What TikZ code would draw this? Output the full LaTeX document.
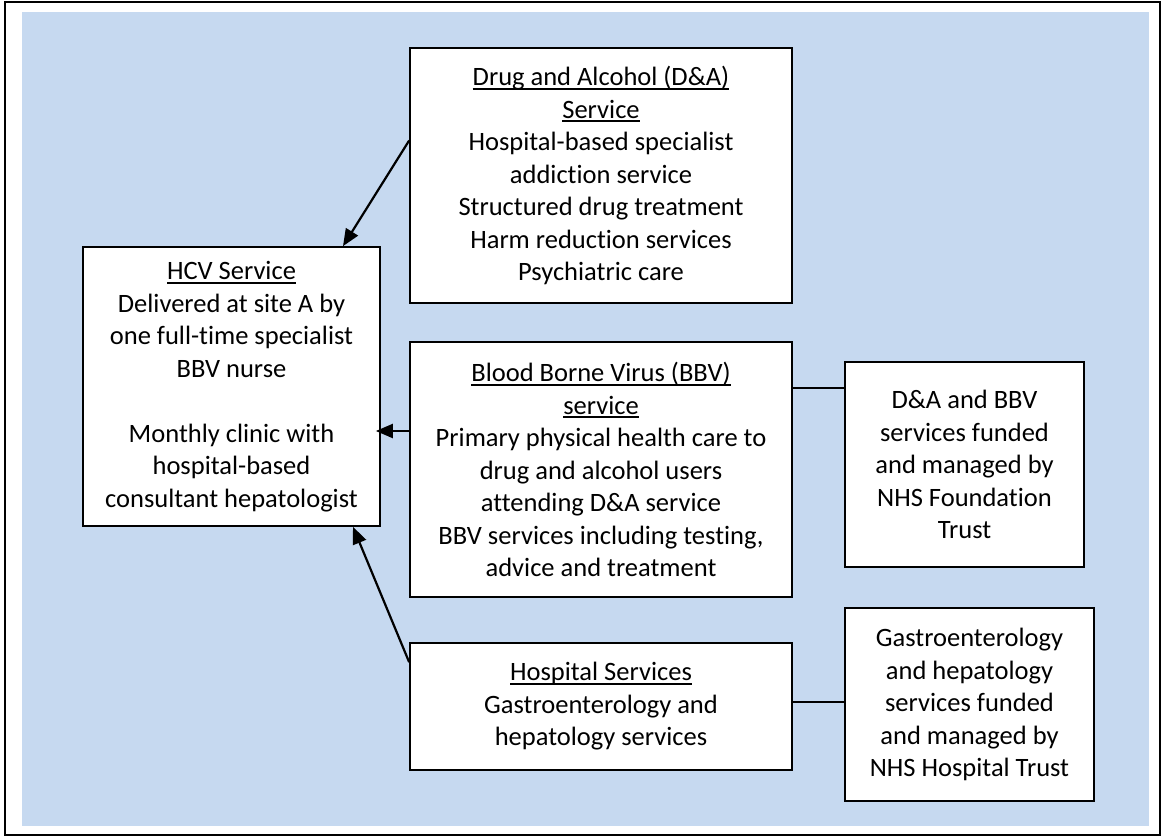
\documentclass[tikz,border=0pt]{standalone}
\usepackage{fontspec}
\setmainfont{Carlito}[Ligatures=NoCommon]
\usetikzlibrary{arrows.meta,calc}
\definecolor{bgblue}{RGB}{198,217,240}
\newcommand{\myul}[1]{\setbox0\hbox{#1}\leavevmode\rlap{\rule[-4pt]{\wd0}{1.7pt}}\box0}
\tikzset{
  svcbox/.style={draw=black, line width=1.7pt, fill=white, rectangle, inner sep=0pt,
    align=center, font=\fontsize{26.5}{32.5}\selectfont},
  arr/.style={line width=2.2pt, -{Triangle[length=17pt,width=14pt]}},
  link/.style={line width=1.5pt}
}
\begin{document}
\begin{tikzpicture}[x=1pt,y=-1pt]
\useasboundingbox (0,0) rectangle (1162,836);
\draw[line width=1.8pt] (5,2) rectangle (1160,835);
\fill[bgblue] (22,12) rectangle (1149,826);

\node[svcbox, minimum width=382pt, minimum height=255pt] (da) at (601,175.5)
  {\myul{Drug and Alcohol (D\&A)}\\ \myul{Service}\\ Hospital-based specialist\\ addiction service\\ Structured drug treatment\\ Harm reduction services\\ Psychiatric care};

\node[svcbox, minimum width=297pt, minimum height=279pt] (hcv) at (231.5,386.5)
  {\myul{HCV Service}\\ Delivered at site A by\\ one full-time specialist\\ BBV nurse\\[32.5pt] Monthly clinic with\\ hospital-based\\ consultant hepatologist};

\node[svcbox, minimum width=382pt, minimum height=255pt] (bbv) at (601,469.5)
  {\myul{Blood Borne Virus (BBV)}\\ \myul{service}\\ Primary physical health care to\\ drug and alcohol users\\ attending D\&A service\\ BBV services including testing,\\ advice and treatment};

\node[svcbox, minimum width=382pt, minimum height=127pt] (hosp) at (601,706.5)
  {\myul{Hospital Services}\\ Gastroenterology and\\ hepatology services};

\node[svcbox, minimum width=239pt, minimum height=205pt] (f1) at (964.5,464.5)
  {D\&A and BBV\\ services funded\\ and managed by\\ NHS Foundation\\ Trust};

\node[svcbox, minimum width=249pt, minimum height=193pt] (f2) at (969.5,704.5)
  {Gastroenterology\\ and hepatology\\ services funded\\ and managed by\\ NHS Hospital Trust};

\draw[arr] ([yshift=35pt]da.west) -- ([xshift=111.5pt]hcv.north);
\coordinate (b1) at ([yshift=38.5pt]bbv.west);
\draw[arr, shorten >=-5pt] (b1) -- (b1 -| hcv.east);
\draw[arr] ([yshift=-20pt]hosp.north west) -- ([xshift=121.5pt]hcv.south);

\coordinate (b2) at ([yshift=81.5pt]bbv.east);
\draw[link] (b2) -- (b2 -| f1.west);
\coordinate (h2) at ([yshift=4.5pt]hosp.east);
\draw[link] (h2) -- (h2 -| f2.west);
\end{tikzpicture}
\end{document}
